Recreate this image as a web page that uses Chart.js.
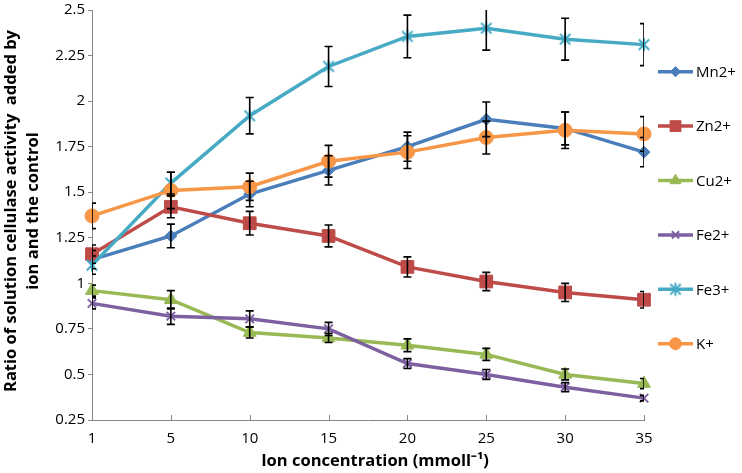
<!DOCTYPE html>
<html>
<head>
<meta charset="utf-8">
<script src="https://cdn.jsdelivr.net/npm/chart.js@4/dist/chart.umd.min.js"></script>
<style>
html,body{margin:0;padding:0;background:#fff;}
#wrap{position:relative;width:742px;height:473px;}
</style>
</head>
<body>
<div id="wrap"><canvas id="c"></canvas></div>
<script>
// ---- data ----
const categories = ['1','5','10','15','20','25','30','35'];
const yTickLabels = ['0.25','0.5','0.75','1','1.25','1.5','1.75','2','2.25','2.5'];
const seriesNames = ['Mn2+','Zn2+','Cu2+','Fe2+','Fe3+','K+'];
const mn  = [1.13, 1.26, 1.49, 1.62, 1.75, 1.90, 1.85, 1.72];
const zn  = [1.16, 1.42, 1.33, 1.26, 1.09, 1.01, 0.95, 0.91];
const cu  = [0.96, 0.91, 0.73, 0.70, 0.66, 0.61, 0.50, 0.45];
const fe2 = [0.89, 0.82, 0.805, 0.75, 0.56, 0.50, 0.43, 0.37];
const fe3 = [1.10, 1.55, 1.92, 2.19, 2.355, 2.40, 2.34, 2.31];
const kp  = [1.37, 1.51, 1.53, 1.67, 1.72, 1.80, 1.84, 1.82];
const mnErr  = [0.05, 0.065, 0.07, 0.08, 0.08, 0.095, 0.09, 0.08];
const znErr  = [0.05, 0.06, 0.065, 0.06, 0.055, 0.05, 0.05, 0.045];
const cuErr  = [0.03, 0.05, 0.03, 0.025, 0.035, 0.033, 0.03, 0.028];
const fe2Err = [0.03, 0.045, 0.044, 0.036, 0.027, 0.027, 0.025, 0.015];
const fe3Err = [0.05, 0.06, 0.10, 0.11, 0.117, 0.12, 0.115, 0.115];
const kErr   = [0.07, 0.10, 0.075, 0.087, 0.09, 0.09, 0.10, 0.095];

// ---- styles ----
const colors = ['#4A7EBB','#BE4B48','#98B954','#7D60A0','#46AAC5','#F79646'];

function starCanvas(color){
  const s = 18, c = document.createElement('canvas');
  c.width = s; c.height = s;
  const g = c.getContext('2d');
  g.strokeStyle = color; g.lineWidth = 2; g.lineCap = 'butt';
  const m = s/2, r = 6.5;
  g.beginPath();
  g.moveTo(m - r*0.8, m - r*0.8); g.lineTo(m + r*0.8, m + r*0.8);
  g.moveTo(m + r*0.8, m - r*0.8); g.lineTo(m - r*0.8, m + r*0.8);
  g.moveTo(m, m - r); g.lineTo(m, m + r);
  g.stroke();
  return c;
}

const values = [mn, zn, cu, fe2, fe3, kp];
const errs = [mnErr, znErr, cuErr, fe2Err, fe3Err, kErr];
const pStyles = ['rectRot','rect','triangle','crossRot', starCanvas(colors[4]), 'circle'];
const pRadius = [6, 9, 7.5, 6, 7, 7];
const pBorder = [1, 1, 1, 2, 2, 1];

const datasets = values.map((v, i) => ({
  label: seriesNames[i],
  data: v,
  errors: errs[i],
  borderColor: colors[i],
  backgroundColor: colors[i],
  pointBackgroundColor: colors[i],
  pointBorderColor: colors[i],
  pointStyle: pStyles[i],
  pointRadius: pRadius[i],
  pointBorderWidth: pBorder[i],
  borderWidth: 3.5,
  tension: 0,
  clip: false,
  order: 10 - i
}));

const FONT = "'Open Sans', 'Liberation Sans', sans-serif";

const custom = {
  id: 'custom',
  afterDatasetsDraw(chart){
    const ctx = chart.ctx, a = chart.chartArea;
    const xs = chart.scales.x, ys = chart.scales.y;
    ctx.save();
    ctx.beginPath();
    ctx.rect(a.left, a.top, a.right - a.left, a.bottom - a.top);
    ctx.clip();
    ctx.strokeStyle = '#000';
    ctx.lineWidth = 1.6;
    chart.data.datasets.forEach(ds => {
      ds.data.forEach((v, j) => {
        const e = ds.errors[j];
        const x = xs.getPixelForValue(j);
        const y1 = ys.getPixelForValue(v + e), y2 = ys.getPixelForValue(v - e);
        ctx.beginPath();
        ctx.moveTo(x, y1); ctx.lineTo(x, y2);
        ctx.moveTo(x - 4, y1); ctx.lineTo(x + 4, y1);
        ctx.moveTo(x - 4, y2); ctx.lineTo(x + 4, y2);
        ctx.stroke();
      });
    });
    ctx.restore();
  },
  afterDraw(chart){
    const ctx = chart.ctx, a = chart.chartArea;
    const xs = chart.scales.x;
    ctx.save();
    // inside tick marks on category axis
    ctx.strokeStyle = '#868686'; ctx.lineWidth = 1;
    for (let j = 1; j < categories.length; j++){
      const x = Math.round(xs.getPixelForValue(j)) + 0.5;
      ctx.beginPath(); ctx.moveTo(x, a.bottom); ctx.lineTo(x, a.bottom - 5); ctx.stroke();
    }
    // axis titles
    ctx.fillStyle = '#000';
    ctx.font = "bold 16.5px " + FONT;
    ctx.textAlign = 'center'; ctx.textBaseline = 'middle';
    ctx.fillText('Ion concentration (mmoll\u207B\u00B9)', 375, 461);
    ctx.save();
    ctx.translate(11, 211); ctx.rotate(-Math.PI/2);
    ctx.fillText('Ratio of solution cellulase activity  added by', 0, 0);
    ctx.restore();
    ctx.save();
    ctx.translate(33, 211); ctx.rotate(-Math.PI/2);
    ctx.fillText('ion and the control', 0, 0);
    ctx.restore();
    // legend
    chart.data.datasets.forEach((ds, i) => {
      const y = 71.7 + i * 54.4;
      ctx.strokeStyle = ds.borderColor; ctx.lineWidth = 3.5;
      ctx.beginPath(); ctx.moveTo(658, y); ctx.lineTo(693, y); ctx.stroke();
      ctx.fillStyle = ds.backgroundColor; ctx.strokeStyle = ds.borderColor;
      ctx.lineWidth = ds.pointBorderWidth;
      Chart.helpers.drawPoint(ctx, {pointStyle: ds.pointStyle, radius: ds.pointRadius * 0.85, rotation: 0, borderWidth: ds.pointBorderWidth}, 675.5, y);
      ctx.fillStyle = '#000';
      ctx.font = "15px " + FONT;
      ctx.textAlign = 'left'; ctx.textBaseline = 'middle';
      ctx.fillText(ds.label, 696, y + 1);
    });
    ctx.restore();
  }
};

new Chart(document.getElementById('c'), {
  type: 'line',
  data: { labels: categories, datasets },
  options: {
    responsive: true,
    maintainAspectRatio: false,
    animation: false,
    layout: { padding: { left: 0, top: 7, right: 98, bottom: 0 } },
    plugins: { legend: { display: false }, tooltip: { enabled: false } },
    scales: {
      x: {
        offset: false,
        grid: { display: false },
        border: { display: true, color: '#868686', width: 1 },
        ticks: { color: '#000', font: { family: FONT, size: 15 }, padding: 2, maxRotation: 0, autoSkip: false },
        afterFit(s){ s.height = 53; s.paddingLeft = 0; s.paddingRight = 0; s.paddingTop = 0; s.paddingBottom = 0; }
      },
      y: {
        min: 0.25, max: 2.5,
        ticks: { stepSize: 0.25, color: '#000', font: { family: FONT, size: 15 }, padding: 3,
                 callback: (v, i) => yTickLabels[i] },
        grid: { drawOnChartArea: false, drawTicks: true, tickLength: 4, color: '#868686' },
        border: { display: true, color: '#868686', width: 1 },
        afterFit(s){ s.width = 92; s.paddingTop = 0; s.paddingBottom = 0; s.paddingLeft = 0; s.paddingRight = 0; }
      }
    }
  },
  plugins: [custom]
});
</script>
</body>
</html>
